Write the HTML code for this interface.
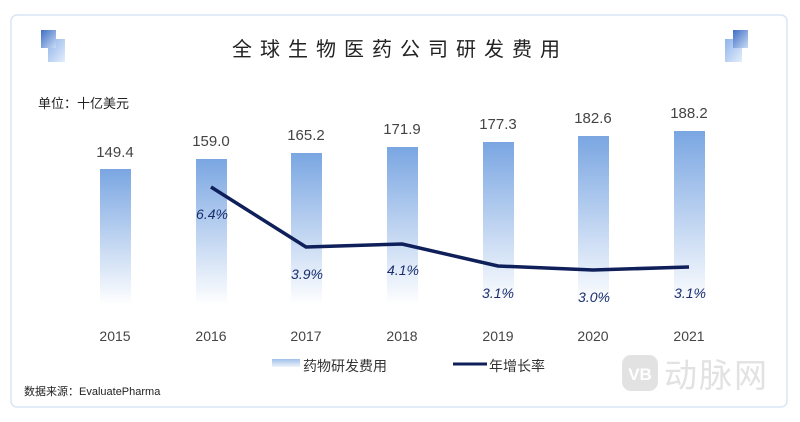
<!DOCTYPE html><html><head><meta charset="utf-8"><style>
body{margin:0;background:#fff;width:800px;height:417px;overflow:hidden;font-family:"Liberation Sans","Noto Sans CJK SC",sans-serif}
</style></head><body>
<svg width="800" height="417" viewBox="0 0 800 417" xmlns="http://www.w3.org/2000/svg">
<defs>
<linearGradient id="b" x1="0" y1="0" x2="0" y2="1"><stop offset="0" stop-color="#7aa6e2"/><stop offset="1" stop-color="#ffffff"/></linearGradient>
<linearGradient id="lg" x1="0" y1="0" x2="0" y2="1"><stop offset="0" stop-color="#9fc0ea"/><stop offset="1" stop-color="#eef4fc"/></linearGradient>
<linearGradient id="s1" x1="0" y1="0" x2="1" y2="1"><stop offset="0" stop-color="#3f6fc4"/><stop offset="1" stop-color="#c9dbf5"/></linearGradient>
<linearGradient id="s2" x1="0" y1="0" x2="1" y2="1"><stop offset="0" stop-color="#8fb3ea"/><stop offset="1" stop-color="#e4eefb"/></linearGradient>
</defs>
<rect x="11" y="15" width="776" height="392" rx="6" fill="#fff" stroke="#d7e6f3" stroke-width="1.5"/>
<rect x="48" y="39" width="17" height="23" fill="url(#s2)"/>
<rect x="41" y="30" width="15" height="18" fill="url(#s1)"/>
<rect x="725" y="39" width="17" height="23" fill="url(#s2)"/>
<rect x="733" y="30" width="15" height="18" fill="url(#s1)"/>
<text x="400" y="56" text-anchor="middle" font-size="20" letter-spacing="8" fill="#222">全球生物医药公司研发费用</text>
<text x="38" y="108" font-size="13" fill="#222">单位：十亿美元</text>
<g fill="url(#b)">
<rect x="100" y="169" width="31" height="136"/>
<rect x="196" y="159" width="31" height="146"/>
<rect x="291" y="153" width="31" height="152"/>
<rect x="387" y="147" width="31" height="158"/>
<rect x="483" y="142" width="31" height="163"/>
<rect x="578" y="136" width="31" height="169"/>
<rect x="674" y="131" width="31" height="174"/>
</g>
<g font-size="15" fill="#444" text-anchor="middle">
<text x="115" y="157">149.4</text><text x="211" y="146">159.0</text><text x="306" y="140">165.2</text><text x="402" y="134">171.9</text><text x="498" y="129">177.3</text><text x="593" y="123">182.6</text><text x="689" y="118">188.2</text>
<text x="115" y="341" font-size="14">2015</text><text x="211" y="341" font-size="14">2016</text><text x="306" y="341" font-size="14">2017</text><text x="402" y="341" font-size="14">2018</text><text x="498" y="341" font-size="14">2019</text><text x="593" y="341" font-size="14">2020</text><text x="689" y="341" font-size="14">2021</text>
</g>
<polyline points="211,187 306,247 402,244 498,266 593,270 689,267" fill="none" stroke="#0f1f5a" stroke-width="3.5" stroke-linejoin="round"/>
<g font-size="14" fill="#1a2e6e" font-style="italic" text-anchor="middle">
<text x="212" y="219">6.4%</text><text x="307" y="279">3.9%</text><text x="403" y="275">4.1%</text><text x="498" y="298">3.1%</text><text x="594" y="302">3.0%</text><text x="690" y="298">3.1%</text>
</g>
<rect x="272" y="359" width="28" height="8" fill="url(#lg)"/>
<text x="303" y="371" font-size="14" fill="#333">药物研发费用</text>
<line x1="453" y1="364" x2="487" y2="364" stroke="#0f1f5a" stroke-width="3"/>
<text x="489" y="371" font-size="14" fill="#333">年增长率</text>
<text x="24" y="395" font-size="11" fill="#222">数据来源：EvaluatePharma</text>
<rect x="622" y="355" width="36" height="36" rx="9" fill="#e2e2e2"/>
<text x="640" y="380" font-size="17" font-weight="bold" fill="#fff" text-anchor="middle">VB</text>
<text x="664" y="387" font-size="33" fill="#e2e2e2" letter-spacing="2">动脉网</text>
</svg>
</body></html>
